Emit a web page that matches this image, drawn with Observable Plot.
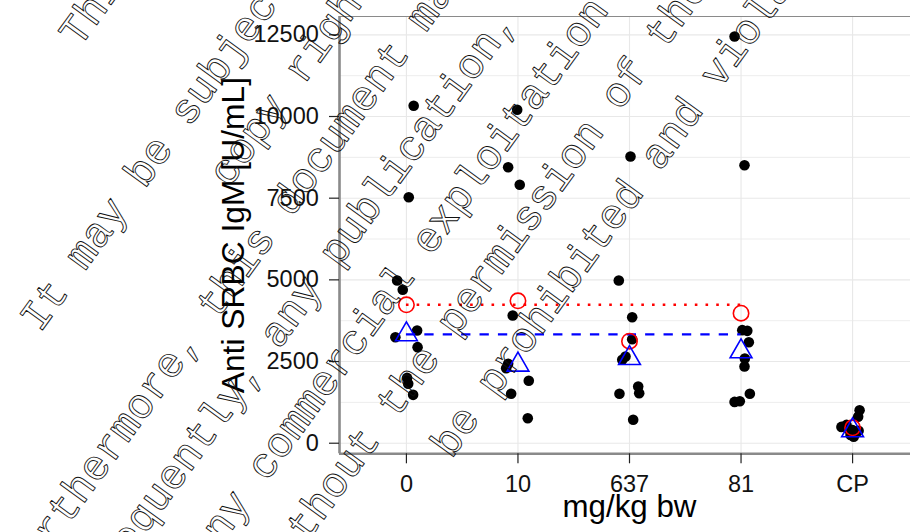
<!DOCTYPE html>
<html>
<head>
<meta charset="utf-8">
<script src="https://cdn.jsdelivr.net/npm/d3@7"></script>
<script src="https://cdn.jsdelivr.net/npm/@observablehq/plot@0.6"></script>
<style>
  html, body { margin: 0; padding: 0; background: #ffffff; }
  #chart { width: 910px; height: 532px; overflow: hidden; }
</style>
</head>
<body>
<div id="chart"></div>
<script>
// ---- data ----
const categories = ["0", "10", "637", "81", "CP"];

// individual animals: group index (into categories), value, horizontal jitter (category units)
const pointGroup = [
  0,0,0,0,0,0,0,0,0,0,
  1,1,1,1,1,1,1,1,1,
  2,2,2,2,2,2,2,2,2,2,
  3,3,3,3,3,3,3,3,3,3,
  4,4,4,4,4,4,4,4,4,4
];
const pointValue = [
  10327, 7530, 4980, 4695, 3450, 3245, 2940, 2000, 1818, 1481,
  10205, 8448, 7909, 3909, 2430, 2296, 1910, 1512, 765,
  8776, 4980, 3857, 3183, 2654, 2553, 1736, 1531, 1512, 716,
  12449, 8510, 3460, 3440, 3092, 2592, 2348, 1512, 1286, 1264,
  1010, 808, 560, 500, 430, 400, 380, 300, 250, 200
];
const pointJitter = [
  0.065, 0.021, -0.083, -0.033, 0.096, -0.099, 0.100, 0.006, 0.016, 0.060,
  -0.007, -0.088, 0.016, -0.047, -0.088, -0.106, 0.097, -0.061, 0.088,
  0.009, -0.096, 0.024, 0.024, -0.036, -0.065, 0.078, 0.087, -0.090, 0.033,
  -0.058, 0.031, 0.011, 0.056, 0.070, 0.034, 0.031, 0.079, -0.011, -0.058,
  0.063, 0.050, -0.054, -0.100, -0.036, 0.000, 0.054, 0.027, -0.018, 0.010
];

// group summaries (red circles = mean, blue triangles = median)
const meanValues = [4236, 4359, 3122, 3979, 470];
const medianValues = [3330, 2400, 2602, 2807, 390];

// control reference lines, drawn from group "0" to group "81"
const controlMean = 4236;
const controlMedian = 3330;
const refFrom = "0";
const refTo = "81";

// axis ticks
const yTicks = [0, 2500, 5000, 7500, 10000, 12500];
const yMinorTicks = [1250, 3750, 6250, 8750, 11250];

// axis titles
const xTitle = "mg/kg bw";
const yTitle = "Anti SRBC IgM [U/mL]";

// watermark lines
const watermarkLines = [
  "This document is the property of Bayer AG",
  "and/or any of its affiliates.",
  "It may be subject to rights such as intellectual property and",
  "copy rights of the owner and third parties.",
  "Furthermore, this document may fall under a regulatory data protection regime.",
  "Consequently, any publication, distribution, reproduction and/or publishing and",
  "any commercial exploitation and use of this document or its contents",
  "without the permission of the owner of this document may therefore",
  "be prohibited and violate the rights of its owner."
];

// ---- build ----
const pos = c => categories.indexOf(c) + 1;
const points = pointValue.map((v, i) => ({x: pointGroup[i] + 1 + pointJitter[i], y: v}));
const means = meanValues.map((v, i) => ({x: i + 1, y: v}));
const medians = medianValues.map((v, i) => ({x: i + 1, y: v}));
const refLines = [
  {y: controlMean, x1: pos(refFrom), x2: pos(refTo), kind: "mean"},
  {y: controlMedian, x1: pos(refFrom), x2: pos(refTo), kind: "median"}
];
const catTicks = categories.map((c, i) => ({x: i + 1, label: c}));

const triangle = {
  draw(context, size) {
    const y = -Math.sqrt(size / (3 * Math.sqrt(3)));
    context.moveTo(0, 2 * y);
    context.lineTo(-Math.sqrt(3) * y, -y);
    context.lineTo(Math.sqrt(3) * y, -y);
    context.closePath();
  }
};

const W = 910, H = 532;
const mL = 339, mT = 16, frameBottom = 453.3, mB = H - frameBottom;
const xDomain = [0.4, 5.6], yDomain = [-324, 13061];
const pxPerX = (W + 9 - mL) / (xDomain[1] - xDomain[0]);
const pxPerY = (frameBottom - mT) / (yDomain[1] - yDomain[0]);
const tickLen = 10;
const grid = "#e8e8e8";
const border = "#8a8a8a";
const sansFont = "'Liberation Sans', Arial, Helvetica, sans-serif";
const tickFont = 23.5;

// watermark geometry (layout)
const wmAngle = 54, wmFont = 42.3, wmCenterU = 528, wmV0 = 62, wmStep = 67.8;
const ca = Math.cos(wmAngle * Math.PI / 180), sa = Math.sin(wmAngle * Math.PI / 180);
const watermarkMarks = watermarkLines.map((line, i) => {
  const v = wmV0 + wmStep * i;
  const px = wmCenterU * ca + v * sa;
  const py = -wmCenterU * sa + v * ca;
  return Plot.text([line], {
    frameAnchor: "top-left",
    dx: px - mL, dy: py - mT,
    rotate: -wmAngle,
    fontFamily: "'Liberation Mono', 'Courier New', monospace",
    fontSize: wmFont,
    fill: "none",
    stroke: "#111",
    strokeWidth: 0.9,
    textAnchor: "middle"
  });
});

const chart = Plot.plot({
  width: W,
  height: H,
  marginLeft: mL,
  marginRight: -9,
  marginTop: mT,
  marginBottom: mB,
  style: {
    fontFamily: sansFont,
    fontSize: "23.5px",
    color: "#111",
    background: "#ffffff",
    overflow: "hidden"
  },
  x: {type: "linear", domain: xDomain, axis: null},
  y: {domain: yDomain, axis: null},
  marks: [
    // grid
    Plot.ruleY(yMinorTicks, {stroke: grid, strokeWidth: 0.8}),
    Plot.ruleY(yTicks, {stroke: grid, strokeWidth: 1.1}),
    Plot.ruleX(catTicks, {x: "x", stroke: grid, strokeWidth: 1.1}),
    // panel border + axis lines
    Plot.frame({stroke: border, strokeWidth: 1}),
    Plot.ruleX([xDomain[0]], {stroke: border, strokeWidth: 2.6}),
    Plot.ruleY([yDomain[0]], {stroke: border, strokeWidth: 2.6}),
    // ticks
    Plot.ruleY(yTicks, {x1: xDomain[0] - tickLen / pxPerX, x2: xDomain[0], stroke: "#222", strokeWidth: 1.2}),
    Plot.ruleX(catTicks, {x: "x", y1: yDomain[0], y2: yDomain[0] - tickLen / pxPerY, stroke: "#222", strokeWidth: 1.2}),
    // tick labels
    Plot.text(yTicks, {x: xDomain[0], y: d => d, text: d => String(d), dx: -20.7, textAnchor: "end", fontSize: tickFont, fill: "#111"}),
    Plot.text(catTicks, {x: "x", y: yDomain[0], text: "label", dy: 22, lineAnchor: "top", fontSize: tickFont, fill: "#111"}),
    // data
    Plot.dot(points, {x: "x", y: "y", r: 5.3, fill: "#000", stroke: "none"}),
    Plot.ruleY(refLines.filter(d => d.kind === "mean"), {y: "y", x1: "x1", x2: "x2", stroke: "#ff0000", strokeWidth: 2.6, strokeDasharray: "2.6,8.1"}),
    Plot.ruleY(refLines.filter(d => d.kind === "median"), {y: "y", x1: "x1", x2: "x2", stroke: "#0000ff", strokeWidth: 2.4, strokeDasharray: "9.3,9.1"}),
    Plot.dot(means, {x: "x", y: "y", r: 7.7, fill: "none", stroke: "#ff0000", strokeWidth: 1.6}),
    Plot.dot(medians, {x: "x", y: "y", r: 8.1, symbol: triangle, fill: "none", stroke: "#0000ff", strokeWidth: 1.6}),
    // axis titles
    Plot.text([yTitle], {frameAnchor: "left", dx: 233.5 - mL, rotate: -90, textAnchor: "middle", fontSize: 31.8, fill: "#000"}),
    Plot.text([xTitle], {frameAnchor: "bottom", dy: 516 - frameBottom, textAnchor: "middle", fontSize: 31.3, fill: "#000"}),
    // watermark stamp
    ...watermarkMarks
  ]
});

document.getElementById("chart").appendChild(chart);
</script>
</body>
</html>
